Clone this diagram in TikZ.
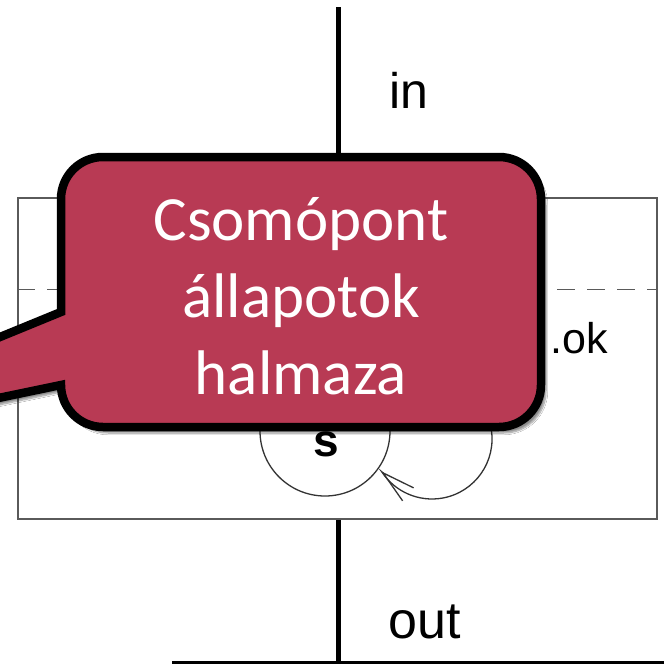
\documentclass[tikz,border=0pt]{standalone}
\usepackage{fontspec}
\usetikzlibrary{arrows.meta,shadows.blur}
\newfontfamily\calfont{Carlito}
\newfontfamily\arialfont{Liberation Sans}
\definecolor{callfill}{RGB}{184,58,84}
\definecolor{boxgray}{RGB}{90,90,90}
\tikzset{
  wire/.style={line width=5pt, black},
  boxline/.style={draw=boxgray, line width=1.6pt},
  dashline/.style={draw=boxgray, line width=1.4pt, dash pattern=on 18pt off 12pt},
  statecirc/.style={circle, draw=black!80, line width=1.3pt, minimum size=130pt, inner sep=0pt},
  looparc/.style={draw=black!80, line width=1.3pt},
  lbl/.style={font=\arialfont\fontsize{50}{60}\selectfont, inner sep=0pt},
  callout/.style={fill=callfill, draw=black, line width=8.5pt,
    blur shadow={shadow xshift=5pt, shadow yshift=-6pt, shadow opacity=45, shadow blur steps=8}},
  calltext/.style={text=white, align=center, inner sep=0pt,
    font=\calfont\fontsize{63}{77}\selectfont}
}
\begin{document}
\begin{tikzpicture}[x=1pt,y=-1pt]
\useasboundingbox (0,0) rectangle (664,664);
\clip (0,0) rectangle (664,664);
\fill[white] (0,0) rectangle (664,664);
% main box
\node[boxline, rectangle, minimum width=639pt, minimum height=321pt, inner sep=0pt] (box) at (337.5,358.5) {};
\draw[dashline] ([yshift=-92pt]box.north west) -- ([yshift=-92pt]box.north east);
% wires
\coordinate (intop) at (338,7);
\coordinate (outbot) at (338,664);
\draw[wire] (intop) -- (box.north -| intop);
\draw[wire] (box.south -| outbot) -- (outbot);
\coordinate (hl) at (172,662.5);
\coordinate (hr) at (664,662.5);
\draw[black, line width=2.5pt] (hl) -- (hr);
% labels
\node[lbl, anchor=base west] (inlbl) at (389,108) {in};
\node[lbl, anchor=base west, font=\arialfont\fontsize{52}{60}\selectfont] (outlbl) at (388,638) {out};
\node[lbl, anchor=base east, font=\arialfont\fontsize{43}{50}\selectfont] (ok) at (608,353) {.ok};
% state
\node[statecirc] (s) at (325,431) {};
\node[lbl, anchor=base, font=\arialfont\bfseries\fontsize{46}{50}\selectfont] (slbl) at (326,456) {s};
\coordinate (loopstart) at (421.6,379.9);
\draw[looparc, -{Straight Barb[length=33pt, width=17pt, line width=1.3pt]}]
  (loopstart) arc[start angle=-100, end angle=146.8, radius=60] -- ++(-0.76,-0.65);
% callout
\coordinate (ptip) at (-300,460);
\path[callout] (61,312) -- (61,199) arc[start angle=180, end angle=270, radius=42]
  -- (499,157) arc[start angle=270, end angle=360, radius=42]
  -- (541,385) arc[start angle=0, end angle=90, radius=42]
  -- (103,427) arc[start angle=90, end angle=180, radius=42]
  -- (ptip) -- cycle;
\node[calltext] (ctext) at (301,296) {Csomópont\\állapotok\\halmaza};
\end{tikzpicture}
\end{document}
